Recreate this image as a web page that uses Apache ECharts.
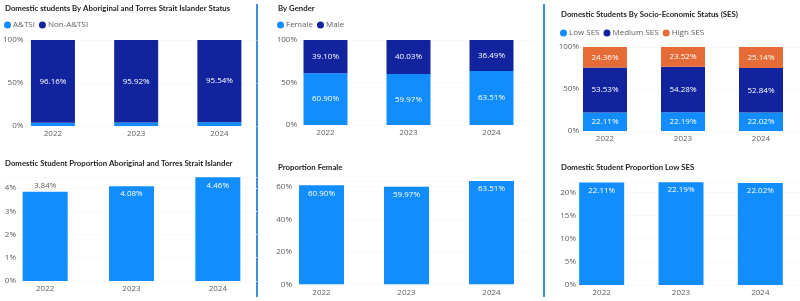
<!DOCTYPE html>
<html lang="en">
<head>
<meta charset="UTF-8">
<script src="https://cdn.jsdelivr.net/npm/echarts@6/dist/echarts.min.js"></script>
<style>
  html, body { margin: 0; padding: 0; background: #fff; }
  #main { width: 800px; height: 301px; }
</style>
</head>
<body>
<div id="main"></div>
<script>
// data
var years = ['2022', '2023', '2024'];
var atsi = [3.84, 4.08, 4.46];
var nonAtsi = [96.16, 95.92, 95.54];
var female = [60.90, 59.97, 63.51];
var male = [39.10, 40.03, 36.49];
var lowSes = [22.11, 22.19, 22.02];
var medSes = [53.53, 54.28, 52.84];
var highSes = [24.36, 23.52, 25.14];

var FONT = 'Open Sans';
var LIGHT = '#118DFF', DARK = '#12239E', ORANGE = '#E66C37';
var GREY = '#605e5c';

function pct(p) { return p.value.toFixed(2) + '%'; }

// grid boxes, one per visual
var grids = [
  { left: 10, top: 40, width: 251, height: 86 },
  { left: 284, top: 40, width: 249, height: 85 },
  { left: 566, top: 47, width: 250, height: 84 },
  { left: 2, top: 177.3, width: 259, height: 103.7 },
  { left: 279, top: 181, width: 255, height: 103.3 },
  { left: 562, top: 182.2, width: 255, height: 102.8 }
];
var labelMargins = [-12, -13, -13, -14, -13, -14];
var yMax = [100, 100, 100, 4.46, 63.51, 22.19];
var yStep = [50, 50, 50, 1, 20, 5];

var xAxes = grids.map(function (g, i) {
  return {
    gridIndex: i, type: 'category', data: years,
    axisLine: { show: false }, axisTick: { show: false },
    axisLabel: { color: GREY, fontFamily: FONT, fontSize: 8, margin: 4 }
  };
});
var yAxes = grids.map(function (g, i) {
  return {
    gridIndex: i, type: 'value', min: 0, max: yMax[i], interval: yStep[i],
    axisLabel: {
      color: GREY, fontFamily: FONT, fontSize: 8, margin: labelMargins[i],
      showMaxLabel: i < 3, formatter: '{value}%'
    },
    splitLine: { lineStyle: { color: '#f3f3f3', type: 'dotted' } }
  };
});

var inLabel = { show: true, position: 'inside', color: '#fff', fontFamily: FONT, fontSize: 8, formatter: pct };

function stacked(name, data, color, idx, stack, label) {
  return {
    name: name, type: 'bar', stack: stack, data: data,
    xAxisIndex: idx, yAxisIndex: idx, barWidth: 44,
    itemStyle: { color: color },
    label: label ? inLabel : { show: false }
  };
}

function single(data, idx) {
  return {
    type: 'bar', xAxisIndex: idx, yAxisIndex: idx, barWidth: 45,
    itemStyle: { color: LIGHT },
    data: data.map(function (v) {
      // short bars get their label above, like the source report
      if (v < 4) {
        return { value: v, label: { position: 'top', distance: 2, color: GREY } };
      }
      return v;
    }),
    label: { show: true, position: 'insideTop', distance: 4, color: '#fff', fontFamily: FONT, fontSize: 8, formatter: pct }
  };
}

function title(text, left, top) {
  return {
    text: text, left: left, top: top, padding: 0,
    textStyle: { fontFamily: 'Lato', fontSize: 7.8, fontWeight: 'bold', color: '#252423' }
  };
}
function legend(names, left, top) {
  return {
    data: names, left: left, top: top, padding: 0, icon: 'circle',
    itemWidth: 7, itemHeight: 7, itemGap: 4,
    textStyle: { fontFamily: FONT, fontSize: 8, color: GREY, padding: [0, 0, 0, -3] }
  };
}

var chart = echarts.init(document.getElementById('main'));
chart.setOption({
  animation: false,
  backgroundColor: '#fff',
  title: [
    title('Domestic students By Aboriginal and Torres Strait Islander Status', 5, 4),
    title('By Gender', 278, 4),
    title('Domestic Students By Socio-Economic Status (SES)', 561, 10),
    title('Domestic Student Proportion Aboriginal and Torres Strait Islander', 5, 159),
    title('Proportion Female', 278, 163),
    title('Domestic Student Proportion Low SES', 561, 163)
  ],
  legend: [
    legend(['A&TSI', 'Non-A&TSI'], 4, 21),
    legend(['Female', 'Male'], 277, 21),
    legend(['Low SES', 'Medium SES', 'High SES'], 560, 29)
  ],
  grid: grids,
  xAxis: xAxes,
  yAxis: yAxes,
  series: [
    stacked('A&TSI', atsi, LIGHT, 0, 'a', false),
    stacked('Non-A&TSI', nonAtsi, DARK, 0, 'a', true),
    stacked('Female', female, LIGHT, 1, 'g', true),
    stacked('Male', male, DARK, 1, 'g', true),
    stacked('Low SES', lowSes, LIGHT, 2, 's', true),
    stacked('Medium SES', medSes, DARK, 2, 's', true),
    stacked('High SES', highSes, ORANGE, 2, 's', true),
    single(atsi, 3),
    single(female, 4),
    single(lowSes, 5)
  ],
  graphic: [
    { type: 'line', shape: { x1: 257, y1: 4, x2: 257, y2: 297 }, style: { stroke: '#3b8fdc', lineWidth: 2 } },
    { type: 'line', shape: { x1: 544, y1: 4, x2: 544, y2: 297 }, style: { stroke: '#3b8fdc', lineWidth: 2 } }
  ]
});
</script>
</body>
</html>
